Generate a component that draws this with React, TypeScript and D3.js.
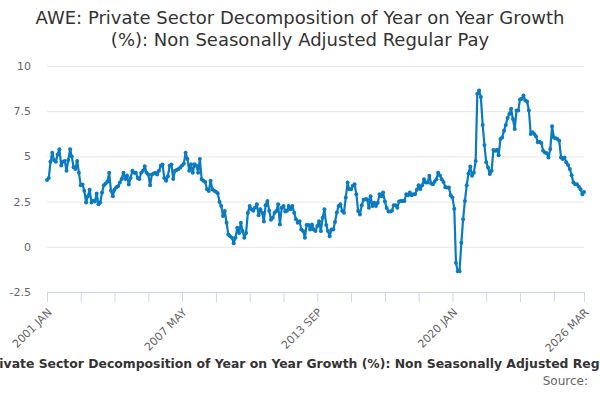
import React, { useEffect, useRef } from 'react';
import * as d3 from 'd3';

// Monthly series, 2001 JAN .. 2026 MAR
const startMonth = new Date(2001, 0, 1);

const payGrowth: number[] = [
    3.7, 3.8, 4.7, 5.2, 4.8, 4.7, 5.1, 5.4, 4.5, 4.7, 4.75, 4.2,
    4.8, 5.4, 5.0, 4.4, 4.3, 4.75, 4.1, 3.4, 3.45, 3.1, 2.45, 2.8,
    3.15, 2.45, 2.55, 2.5, 2.95, 2.35, 2.45, 3.0, 3.4, 3.5, 3.6, 4.1,
    3.1, 2.8, 3.15, 3.3, 3.35, 3.55, 3.75, 4.1, 3.75, 3.95, 3.45, 3.8,
    4.2, 4.1, 4.1, 3.8, 3.75, 4.1, 4.2, 4.45, 4.1, 4.0, 3.4, 4.0,
    4.05, 4.1, 4.0, 4.2, 4.48, 4.55, 3.8, 3.65, 3.9, 4.48, 4.55, 3.75,
    4.2, 4.25, 4.3, 4.38, 4.5, 4.6, 5.2, 4.85, 4.2, 4.57, 4.1, 4.57,
    4.48, 4.1, 4.85, 3.74, 3.65, 3.59, 3.18, 3.09, 3.65, 3.18, 3.1, 3.05,
    2.96, 2.48, 2.26, 1.7, 1.98, 1.33, 0.68, 0.59, 0.5, 0.2, 0.5, 1.05,
    0.77, 1.33, 0.87, 0.5, 0.77, 1.89, 2.26, 2.07, 2.0, 2.16, 2.35, 1.75,
    2.07, 1.89, 1.4, 2.3, 2.54, 2.0, 1.5, 1.61, 1.89, 1.98, 2.35, 1.24,
    2.16, 2.26, 1.95, 2.0, 2.26, 2.07, 2.26, 1.89, 1.52, 1.33, 1.42, 0.96,
    0.87, 0.5, 1.2, 1.2, 0.96, 1.24, 0.96, 0.87, 1.15, 1.42, 0.87, 1.61,
    2.07, 1.2, 0.87, 0.59, 0.96, 0.96, 1.37, 1.9, 2.26, 2.35, 1.98, 1.89,
    2.72, 3.55, 3.18, 3.18, 3.37, 3.46, 2.91, 1.98, 1.79, 2.3, 2.6, 2.63,
    2.63, 2.16, 2.8, 2.26, 2.43, 2.26, 2.43, 2.9, 2.8, 3.0, 2.5, 2.15,
    1.95, 1.95, 2.0, 2.3, 2.3, 2.16, 2.5, 2.54, 2.54, 2.54, 2.91, 2.85,
    3.0, 2.85, 2.91, 2.91, 3.15, 3.41, 3.2, 3.4, 3.74, 3.55, 3.55, 3.93,
    3.5, 3.46, 3.6, 3.74, 4.1, 3.95, 3.74, 3.59, 3.3, 3.28, 3.28, 2.85,
    2.72, 2.11, -0.89, -1.35, -1.35, 0.22, 1.52, 2.54, 3.41, 4.05, 4.44, 3.93,
    4.1, 4.75, 8.46, 8.65, 8.28, 6.74, 5.63, 4.67, 4.39, 4.02, 4.2, 5.35,
    5.31, 5.37, 5.07, 5.96, 6.05, 6.42, 6.74, 7.13, 7.35, 7.63, 7.07, 6.51,
    7.54, 7.54, 8.15, 8.19, 8.37, 8.09, 8.04, 7.54, 6.24, 6.33, 6.24, 6.11,
    5.78, 5.81, 5.74, 5.31, 5.22, 5.18, 4.94, 5.41, 6.67, 6.05, 6.0, 5.96,
    5.87, 4.94, 4.85, 4.94, 4.67, 4.52, 4.3, 3.96, 3.55, 3.46, 3.46, 3.33,
    3.18, 2.91, 3.03,
];

const yTicks = [-2.5, 0, 2.5, 5, 7.5, 10];
const xTickLabels = ['2001 JAN', '2007 MAY', '2013 SEP', '2020 JAN', '2026 MAR'];

const titleLines = [
    'AWE: Private Sector Decomposition of Year on Year Growth',
    '(%): Non Seasonally Adjusted Regular Pay',
];
const caption = 'AWE: Private Sector Decomposition of Year on Year Growth (%): Non Seasonally Adjusted Regular Pay';

const App: React.FC = () => {
    const ref = useRef<SVGSVGElement>(null);
    const width = 600;
    const height = 400;
    const margin = { top: 66, right: 16, bottom: 108, left: 47 };
    const lineColor = '#0a7bc1';

    useEffect(() => {
        const svg = d3.select(ref.current);
        svg.selectAll('*').remove();

        const data = payGrowth.map((v, i) => ({ date: d3.timeMonth.offset(startMonth, i), value: v }));
        const endMonth = data[data.length - 1].date;

        const x = d3.scaleTime()
            .domain([startMonth, endMonth])
            .range([margin.left, width - margin.right]);
        const y = d3.scaleLinear()
            .domain([-2.5, 10])
            .range([height - margin.bottom, margin.top]);

        // title
        svg.append('g')
            .selectAll('text')
            .data(titleLines)
            .enter()
            .append('text')
            .attr('x', width / 2)
            .attr('y', (_, i) => 24 + i * 22)
            .attr('text-anchor', 'middle')
            .attr('font-family', 'DejaVu Sans')
            .attr('font-size', 18)
            .attr('fill', '#333333')
            .text(d => d);

        // grid lines + y labels
        const yAxis = svg.append('g').attr('transform', `translate(${margin.left},0)`)
            .call(d3.axisLeft(y).tickValues(yTicks).tickSize(-(width - margin.left - margin.right)).tickFormat(d => `${d}`));
        yAxis.select('.domain').remove();
        yAxis.selectAll('.tick line').attr('stroke', '#e6e6e6');
        yAxis.selectAll('.tick text')
            .attr('x', -16)
            .attr('font-family', 'DejaVu Sans')
            .attr('font-size', 11)
            .attr('fill', '#666666');

        // x ticks every 19 months, labels every 4th, plus the end
        const tickDates: Date[] = [];
        for (let i = 0; i < data.length - 10; i += 19) tickDates.push(data[i].date);
        tickDates.push(endMonth);
        const labelFor = (d: Date) => {
            const idx = tickDates.findIndex(t => t.getTime() === d.getTime());
            if (idx === tickDates.length - 1) return xTickLabels[xTickLabels.length - 1];
            return idx % 4 === 0 ? xTickLabels[idx / 4] : '';
        };

        const xAxis = svg.append('g').attr('transform', `translate(0,${height - margin.bottom})`)
            .call(d3.axisBottom(x).tickValues(tickDates).tickSize(10).tickSizeOuter(0).tickFormat(d => labelFor(d as Date)));
        xAxis.select('.domain').attr('stroke', '#ccd6eb');
        xAxis.selectAll('.tick line').attr('stroke', '#ccd6eb');
        xAxis.selectAll('.tick text')
            .attr('font-family', 'DejaVu Sans')
            .attr('font-size', 11)
            .attr('fill', '#666666')
            .attr('text-anchor', 'end')
            .attr('dy', 0)
            .attr('y', 0)
            .attr('transform', 'translate(5,21) rotate(-45)');

        // series
        const line = d3.line<{ date: Date; value: number }>()
            .x(d => x(d.date))
            .y(d => y(d.value));
        svg.append('path')
            .datum(data)
            .attr('fill', 'none')
            .attr('stroke', lineColor)
            .attr('stroke-width', 2.2)
            .attr('stroke-linejoin', 'round')
            .attr('d', line);
        svg.append('g')
            .selectAll('circle')
            .data(data)
            .enter()
            .append('circle')
            .attr('cx', d => x(d.date))
            .attr('cy', d => y(d.value))
            .attr('r', 2)
            .attr('fill', lineColor);

        // caption + source
        svg.append('text')
            .attr('x', width / 2)
            .attr('y', 368)
            .attr('text-anchor', 'middle')
            .attr('font-family', 'DejaVu Sans')
            .attr('font-weight', 'bold')
            .attr('font-size', 12.4)
            .attr('fill', '#333333')
            .text(caption);
        svg.append('text')
            .attr('x', 588)
            .attr('y', 385)
            .attr('text-anchor', 'end')
            .attr('font-family', 'DejaVu Sans')
            .attr('font-size', 12)
            .attr('fill', '#666666')
            .text('Source:');
        //eslint-disable-next-line
    }, []);

    return (
        <svg ref={ref} width={width} height={height}
            style={{ position: 'absolute', left: 0, top: 0, background: '#ffffff' }} />
    );
};

export default App;
